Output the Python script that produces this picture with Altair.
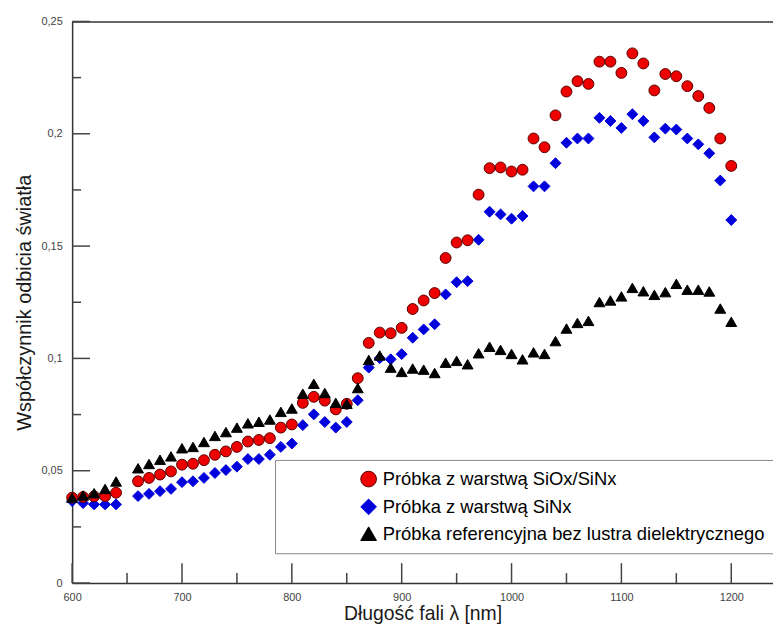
import altair as alt
import pandas as pd

wavelength = [600, 610, 620, 630, 640,
              660, 670, 680, 690, 700, 710, 720, 730, 740, 750, 760, 770, 780, 790, 800,
              810, 820, 830, 840, 850, 860, 870, 880, 890, 900, 910, 920, 930, 940, 950,
              960, 970, 980, 990, 1000, 1010, 1020, 1030, 1040, 1050, 1060, 1070, 1080,
              1090, 1100, 1110, 1120, 1130, 1140, 1150, 1160, 1170, 1180, 1190, 1200]

r_sioxsinx = [0.0380, 0.0383, 0.0386, 0.0387, 0.0402,
              0.0453, 0.0468, 0.0483, 0.0497, 0.0527, 0.0531, 0.0547, 0.0571, 0.0586, 0.0606,
              0.0630, 0.0637, 0.0645, 0.0692, 0.0706, 0.0802, 0.0829, 0.0812, 0.0773, 0.0798,
              0.0912, 0.1069, 0.1115, 0.1112, 0.1136, 0.1220, 0.1258, 0.1291, 0.1447, 0.1516,
              0.1526, 0.1729, 0.1847, 0.1850, 0.1832, 0.1840, 0.1979, 0.1940, 0.2082, 0.2188,
              0.2234, 0.2222, 0.2321, 0.2321, 0.2271, 0.2358, 0.2313, 0.2193, 0.2266, 0.2256,
              0.2212, 0.2168, 0.2115, 0.1979, 0.1857]

r_sinx = [0.0365, 0.0356, 0.0350, 0.0350, 0.0350,
          0.0387, 0.0397, 0.0409, 0.0419, 0.0449, 0.0453, 0.0468, 0.0490, 0.0503, 0.0518,
          0.0552, 0.0552, 0.0571, 0.0606, 0.0621, 0.0703, 0.0751, 0.0717, 0.0692, 0.0717,
          0.0814, 0.0959, 0.1001, 0.0996, 0.1019, 0.1092, 0.1129, 0.1152, 0.1285, 0.1339,
          0.1344, 0.1528, 0.1653, 0.1641, 0.1622, 0.1634, 0.1766, 0.1766, 0.1869, 0.1960,
          0.1979, 0.1979, 0.2071, 0.2057, 0.2026, 0.2087, 0.2057, 0.1984, 0.2023, 0.2019,
          0.1979, 0.1953, 0.1913, 0.1792, 0.1616]

r_ref = [0.0380, 0.0390, 0.0400, 0.0419, 0.0452,
         0.0511, 0.0530, 0.0549, 0.0564, 0.0600, 0.0606, 0.0628, 0.0655, 0.0672, 0.0692,
         0.0711, 0.0718, 0.0728, 0.0762, 0.0777, 0.0843, 0.0887, 0.0846, 0.0802, 0.0798,
         0.0868, 0.0993, 0.1013, 0.0959, 0.0940, 0.0955, 0.0950, 0.0935, 0.0981, 0.0989,
         0.0974, 0.1023, 0.1052, 0.1038, 0.1020, 0.0996, 0.1027, 0.1020, 0.1077, 0.1133,
         0.1158, 0.1167, 0.1251, 0.1258, 0.1276, 0.1314, 0.1299, 0.1283, 0.1295, 0.1332,
         0.1306, 0.1306, 0.1298, 0.1222, 0.1163]

series_names = ["Próbka z warstwą SiOx/SiNx",
                "Próbka z warstwą SiNx",
                "Próbka referencyjna bez lustra dielektrycznego"]
series_fill = ["#ee0000", "#0000dd", "#000000"]
series_stroke = ["#5a0000", "#0000dd", "#000000"]
series_shape = ["circle", "diamond", "triangle-up"]
draw_order = [2, 1, 3]

x_major = [600, 700, 800, 900, 1000, 1100, 1200]
x_minor = [650, 750, 850, 950, 1050, 1150]
y_major = [0, 0.05, 0.1, 0.15, 0.2, 0.25]
y_minor = [0.025, 0.075, 0.125, 0.175, 0.225]

rows = []
for name, vals, z in zip(series_names, [r_sioxsinx, r_sinx, r_ref], draw_order):
    for w, v in zip(wavelength, vals):
        rows.append({"lambda": w, "R": v, "series": name, "z": z})
df = pd.DataFrame(rows)

xt_major = pd.DataFrame({"lambda": x_major})
xt_minor = pd.DataFrame({"lambda": x_minor})
yt_major = pd.DataFrame({"R": y_major})
yt_minor = pd.DataFrame({"R": y_minor})

W = 706
H = 565.7
FONT = "Liberation Sans"
TICK = "#444444"

xscale = alt.Scale(domain=[600, 1238], nice=False, zero=False)
yscale = alt.Scale(domain=[0, 0.25], nice=False, zero=False)

points = alt.Chart(df).mark_point(filled=True, opacity=1, strokeWidth=1, size=120).encode(
    x=alt.X("lambda:Q", scale=xscale,
            axis=alt.Axis(values=x_major, ticks=False, grid=False, domainColor="#333333",
                          domainWidth=1.5, labelFont=FONT, labelFontSize=11,
                          labelColor="#444444", labelPadding=9, labelFlush=False,
                          labelExpr="toString(datum.value)",
                          title="Długość fali λ [nm]", titleFont=FONT, titleFontSize=19.5,
                          titleFontWeight="normal", titleColor="#1a1a1a", titlePadding=2)),
    y=alt.Y("R:Q", scale=yscale,
            axis=alt.Axis(values=y_major, ticks=False, grid=False, domainColor="#333333",
                          domainWidth=1.5, labelFont=FONT, labelFontSize=11,
                          labelColor="#444444", labelPadding=10, labelFlush=False,
                          labelExpr="replace(toString(datum.value), '.', ',')",
                          title="Współczynnik odbicia światła", titleFont=FONT,
                          titleFontSize=20, titleFontWeight="normal", titleColor="#1a1a1a",
                          titlePadding=7)),
    fill=alt.Fill("series:N", scale=alt.Scale(domain=series_names, range=series_fill),
                  title=None),
    stroke=alt.Stroke("series:N", scale=alt.Scale(domain=series_names, range=series_stroke),
                      title=None),
    shape=alt.Shape("series:N", scale=alt.Scale(domain=series_names, range=series_shape),
                    title=None),
    order=alt.Order("z:Q"),
)

x_major_ticks = alt.Chart(xt_major).mark_rule(color=TICK, strokeWidth=1.5).encode(
    x=alt.X("lambda:Q", scale=xscale, axis=None),
    y=alt.value(H), y2=alt.value(H - 20),
)
x_minor_ticks = alt.Chart(xt_minor).mark_rule(color=TICK, strokeWidth=1.5).encode(
    x=alt.X("lambda:Q", scale=xscale, axis=None),
    y=alt.value(H), y2=alt.value(H - 10),
)
y_major_ticks = alt.Chart(yt_major).mark_rule(color=TICK, strokeWidth=1.5).encode(
    y=alt.Y("R:Q", scale=yscale, axis=None),
    x=alt.value(0), x2=alt.value(18),
)
y_minor_ticks = alt.Chart(yt_minor).mark_rule(color=TICK, strokeWidth=1.5).encode(
    y=alt.Y("R:Q", scale=yscale, axis=None),
    x=alt.value(0), x2=alt.value(9),
)

top_frame = alt.Chart(xt_major).mark_point(opacity=0).encode(
    x=alt.X("lambda:Q", scale=xscale,
            axis=alt.Axis(orient="top", values=[0], ticks=False, labels=False, domain=True,
                          domainColor="#666666", domainWidth=2, grid=False, title=None)),
)

chart = alt.layer(
    top_frame, x_major_ticks, x_minor_ticks, y_major_ticks, y_minor_ticks, points
).resolve_axis(
    x="independent", y="independent"
).properties(
    width=W, height=H,
    autosize=alt.AutoSizeParams(type="none"),
    padding={"left": 64.6, "top": 11.3, "right": 0, "bottom": 40},
    background="#ffffff",
).configure_view(stroke=None).configure_legend(
    orient="none", legendX=204.4, legendY=441.7, title=None,
    strokeColor="#888888", fillColor="#ffffff", padding=10,
    symbolOffset=75, symbolSize=250, labelFont=FONT,
    labelFontSize=18.5, labelColor="#000000", labelOffset=5,
    rowPadding=7, labelLimit=600, symbolStrokeWidth=1,
)

chart.save("out.html", embed_options={"renderer": "svg", "actions": False})
